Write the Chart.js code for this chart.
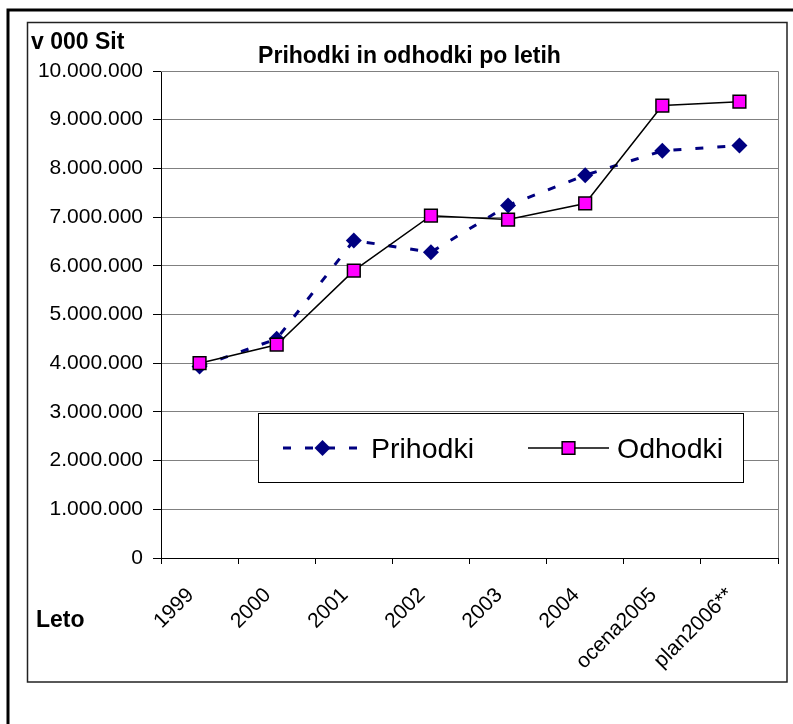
<!DOCTYPE html>
<html><head><meta charset="utf-8">
<style>html,body{margin:0;padding:0;background:#fff;}canvas{display:block;}</style>
<script src="https://cdn.jsdelivr.net/npm/chart.js@4.4.1/dist/chart.umd.min.js"></script>
</head><body>
<canvas id="c" width="793" height="724"></canvas>
<script>
const categories = ['1999', '2000', '2001', '2002', '2003', '2004', 'ocena2005', 'plan2006**'];
const prihodki = [3930000, 4500000, 6520000, 6280000, 7240000, 7860000, 8360000, 8470000];
const odhodki  = [4000000, 4380000, 5900000, 7030000, 6950000, 7280000, 9290000, 9370000];
const seriesNames = ['Prihodki', 'Odhodki'];
const titleText = 'Prihodki in odhodki po letih';
const yUnitText = 'v 000 Sit';
const xAxisText = 'Leto';
const yMin = 0, yMax = 10000000, yStep = 1000000;

const FONT = '"Liberation Sans", Arial, sans-serif';
function fmt(v) { return String(v).replace(/\B(?=(\d{3})+(?!\d))/g, '.'); }

const framePlugin = {
  id: 'frames',
  beforeDraw(chart) {
    const ctx = chart.ctx;
    ctx.save();
    ctx.fillStyle = '#fff';
    ctx.fillRect(0, 0, chart.width, chart.height);
    ctx.strokeStyle = '#000';
    ctx.lineWidth = 3;
    ctx.beginPath();
    ctx.moveTo(8, 724); ctx.lineTo(8, 10); ctx.lineTo(793, 10);
    ctx.stroke();
    ctx.lineWidth = 1.5;
    ctx.strokeStyle = '#222';
    ctx.strokeRect(27.5, 22.5, 759.5, 659.5);
    ctx.restore();
  },
  beforeDatasetsDraw(chart) {
    const ctx = chart.ctx, a = chart.chartArea;
    ctx.save();
    ctx.strokeStyle = '#808080';
    ctx.lineWidth = 1;
    ctx.beginPath();
    ctx.moveTo(a.left, a.top + 0.5); ctx.lineTo(a.right + 0.5, a.top + 0.5);
    ctx.lineTo(a.right + 0.5, a.bottom);
    ctx.stroke();
    ctx.restore();
  },
  afterDraw(chart) {
    const ctx = chart.ctx;
    ctx.save();
    ctx.fillStyle = '#000';
    ctx.textBaseline = 'alphabetic';
    ctx.font = 'bold 23px ' + FONT;
    ctx.textAlign = 'left';
    ctx.fillText(yUnitText, 31, 49);
    ctx.fillText(xAxisText, 36, 627);
    ctx.textAlign = 'center';
    ctx.fillText(titleText, 409.5, 63);

    // legend
    const lx = 258, ly = 413, lw = 485, lh = 69;
    ctx.fillStyle = '#fff';
    ctx.fillRect(lx, ly, lw, lh);
    ctx.strokeStyle = '#000';
    ctx.lineWidth = 1;
    ctx.strokeRect(lx + 0.5, ly + 0.5, lw, lh);
    const cy = 448;
    const items = [
      {x0: 283, x1: 362, tx: 371},
      {x0: 528, x1: 609, tx: 617}
    ];
    chart.data.datasets.forEach((ds, i) => {
      const it = items[i];
      ctx.save();
      ctx.strokeStyle = ds.borderColor;
      ctx.lineWidth = ds.borderWidth;
      ctx.setLineDash(ds.borderDash || []);
      ctx.beginPath();
      ctx.moveTo(it.x0, cy); ctx.lineTo(it.x1, cy);
      ctx.stroke();
      ctx.restore();
      ctx.fillStyle = ds.pointBackgroundColor;
      ctx.strokeStyle = ds.pointBorderColor;
      ctx.lineWidth = ds.pointBorderWidth;
      ctx.setLineDash([]);
      ctx.beginPath();
      const cx = (it.x0 + it.x1) / 2;
      if (ds.pointStyle === 'rect') {
        const s = Math.SQRT1_2 * ds.pointRadius;
        ctx.rect(cx - s, cy - s, 2 * s, 2 * s);
      } else {
        const r = ds.pointRadius;
        ctx.moveTo(cx, cy - r); ctx.lineTo(cx + r, cy); ctx.lineTo(cx, cy + r); ctx.lineTo(cx - r, cy); ctx.closePath();
      }
      ctx.fill();
      if (ds.pointBorderWidth > 0) ctx.stroke();
      ctx.fillStyle = '#000';
      ctx.font = '28.5px ' + FONT;
      ctx.textAlign = 'left';
      ctx.fillText(ds.label, it.tx, 458);
    });
    ctx.restore();
  }
};

new Chart(document.getElementById('c'), {
  type: 'line',
  data: {
    labels: categories,
    datasets: [
      {
        label: seriesNames[0], data: prihodki, order: 2,
        borderColor: '#000080', borderWidth: 3, borderDash: [8, 14],
        pointStyle: 'rectRot', pointRadius: 8, pointHoverRadius: 8,
        pointBackgroundColor: '#000080', pointBorderColor: '#000080', pointBorderWidth: 0,
        tension: 0, fill: false
      },
      {
        label: seriesNames[1], data: odhodki, order: 1,
        borderColor: '#000000', borderWidth: 1.5,
        pointStyle: 'rect', pointRadius: 9, pointHoverRadius: 9,
        pointBackgroundColor: '#FF00FF', pointBorderColor: '#000000', pointBorderWidth: 1.5,
        tension: 0, fill: false
      }
    ]
  },
  options: {
    responsive: false, animation: false, devicePixelRatio: 1,
    layout: { padding: { top: 71, right: 15, left: 0, bottom: 0 } },
    plugins: { legend: { display: false }, title: { display: false }, tooltip: { enabled: false } },
    events: [],
    scales: {
      x: {
        type: 'category', offset: true,
        grid: { offset: true, drawOnChartArea: false, drawTicks: true, tickLength: 6, tickColor: '#000', tickWidth: 1 },
        border: { display: true, color: '#000', width: 1 },
        ticks: { maxRotation: 45, minRotation: 45, autoSkip: false, padding: 19, labelOffset: -9, color: '#000', font: { family: FONT, size: 21 } },
        afterFit(s) { s.height = 724 - 558; }
      },
      y: {
        min: yMin, max: yMax,
        grid: { color: '#808080', lineWidth: 1, drawTicks: true, tickLength: 8, tickColor: '#000' },
        border: { display: true, color: '#000', width: 1 },
        ticks: { stepSize: yStep, padding: 10, color: '#000', font: { family: FONT, size: 21 }, callback: v => fmt(v) },
        afterFit(s) { s.width = 161; }
      }
    }
  },
  plugins: [framePlugin]
});
</script>
</body></html>
